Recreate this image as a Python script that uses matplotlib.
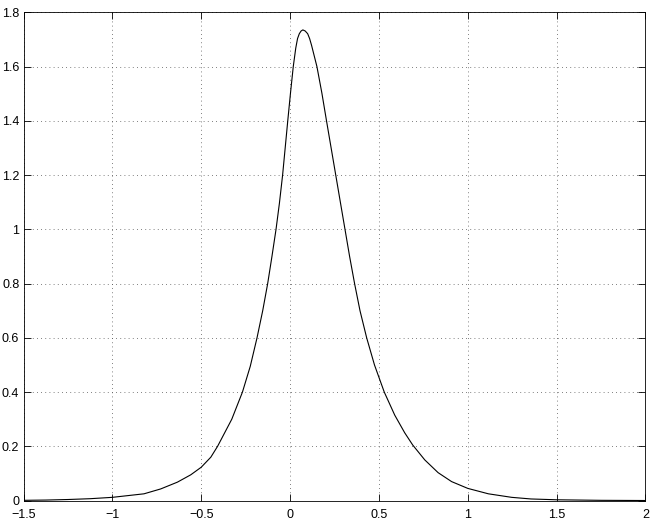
#!/usr/bin/env python
#importing libraries
import matplotlib
matplotlib.use('Agg')
import matplotlib.pyplot as plt

#Curve points (x, y)
x_pts = [-1.5, -1.375, -1.25, -1.125, -1.0, -0.822, -0.728, -0.634, -0.559, -0.5,
         -0.446, -0.408, -0.328, -0.268, -0.224, -0.186, -0.154, -0.126, -0.102, -0.079,
         -0.060, -0.042, -0.013, 0.002, 0.018, 0.032, 0.042, 0.052, 0.062, 0.072,
         0.085, 0.099, 0.110, 0.121, 0.151, 0.179, 0.205, 0.257, 0.284, 0.309,
         0.335, 0.363, 0.3935, 0.431, 0.475, 0.530, 0.589, 0.645, 0.690, 0.758,
         0.833, 0.909, 1.0, 1.116, 1.247, 1.356, 1.5, 1.75, 2.0]
y_pts = [0.001, 0.002, 0.004, 0.007, 0.012, 0.025, 0.043, 0.068, 0.095, 0.123,
         0.160, 0.200, 0.300, 0.400, 0.495, 0.600, 0.700, 0.800, 0.900, 1.000,
         1.096, 1.200, 1.400, 1.500, 1.600, 1.668, 1.703, 1.721, 1.731, 1.735,
         1.731, 1.721, 1.703, 1.678, 1.600, 1.502, 1.400, 1.200, 1.096, 1.000,
         0.900, 0.800, 0.700, 0.600, 0.500, 0.400, 0.315, 0.250, 0.205, 0.150,
         0.103, 0.070, 0.045, 0.025, 0.012, 0.006, 0.003, 0.001, 0.0003]

x_ticks = [-1.5, -1, -0.5, 0, 0.5, 1, 1.5, 2]
x_labels = ['\u22121.5', '\u22121', '\u22120.5', '0', '0.5', '1', '1.5', '2']
y_ticks = [0, 0.2, 0.4, 0.6, 0.8, 1, 1.2, 1.4, 1.6, 1.8]
y_labels = ['0', '0.2', '0.4', '0.6', '0.8', '1', '1.2', '1.4', '1.6', '1.8']

plt.rcParams['font.family'] = ['Liberation Sans', 'DejaVu Sans']

fig = plt.figure(figsize=(6.53, 5.22), dpi=100)
ax = fig.add_axes([0.036, 0.041, 0.9525, 0.9355])

ax.plot(x_pts, y_pts, color='black', linewidth=0.8, solid_joinstyle='round')

#Axes parameters (MATLAB look)
ax.set_xlim(-1.5, 2)
ax.set_ylim(0, 1.8)
ax.set_xticks(x_ticks)
ax.set_xticklabels(x_labels)
ax.set_yticks(y_ticks)
ax.set_yticklabels(y_labels)
ax.grid(True, linestyle=(0, (1, 4)), color='#555555', linewidth=0.6)
ax.tick_params(direction='in', top=True, right=True, labelsize=9, length=5, width=0.6)
ax.tick_params(axis='x', pad=6)
ax.tick_params(axis='y', pad=3)
for s in ax.spines.values():
    s.set_linewidth(0.6)

plt.savefig('out.png', dpi=100)
